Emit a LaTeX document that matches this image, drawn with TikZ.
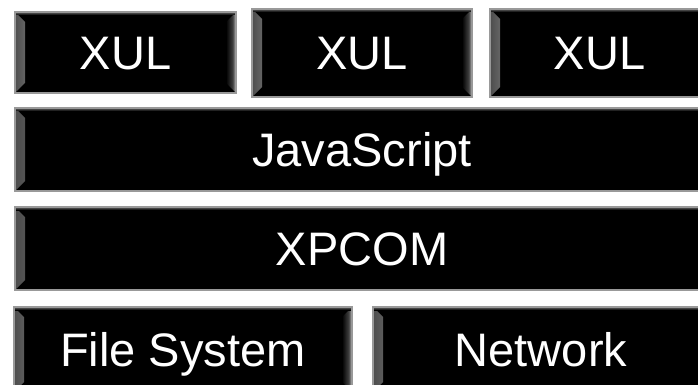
\documentclass[tikz,border=0pt]{standalone}
\usepackage{fontspec}
\setmainfont{Liberation Sans}
\pgfdeclarehorizontalshading{bevL}{100bp}{color(0bp)=(black!70); color(25bp)=(black!70); color(31bp)=(black!45); color(42bp)=(black!75); color(75bp)=(black); color(100bp)=(black)}
\pgfdeclarehorizontalshading{bevR}{100bp}{color(0bp)=(black); color(25bp)=(black); color(58bp)=(black!75); color(69bp)=(black!45); color(75bp)=(black!70); color(100bp)=(black!70)}
\tikzset{
  blk/.style={draw=black!40, line width=1.2pt, fill=black, text=white,
    font=\fontsize{47}{47}\selectfont, inner sep=0pt, anchor=center,
    text height=33.6pt, text depth=0pt,
    path picture={
      \shade[shading=bevL] (path picture bounding box.north west) -- ++(10pt,-10pt)
        -- ([shift={(10pt,10pt)}]path picture bounding box.south west)
        -- (path picture bounding box.south west) -- cycle;
      \shade[shading=bevR] (path picture bounding box.north east) -- ++(-10pt,-10pt)
        -- ([shift={(-10pt,10pt)}]path picture bounding box.south east)
        -- (path picture bounding box.south east) -- cycle;
      \shade[top color=black!60, bottom color=black] (path picture bounding box.north west)
        rectangle ([yshift=-3pt]path picture bounding box.north east);
    }}
}
\begin{document}
\begin{tikzpicture}[x=1pt,y=-1pt]
\useasboundingbox (0,0) rectangle (698,385);
\node[blk, minimum width=221pt, minimum height=81pt] (xul1) at (125.5,52.5) {XUL};
\node[blk, minimum width=220pt, minimum height=88pt] (xul2) at (362,53) {XUL};
\node[blk, minimum width=219pt, minimum height=88pt] (xul3) at (599.5,53) {XUL};
\node[blk, minimum width=694pt, minimum height=83pt] (js) at (362,149.5) {JavaScript};
\node[blk, minimum width=694pt, minimum height=83pt] (xpcom) at (362,248.5) {XPCOM};
\node[blk, minimum width=338pt, minimum height=85pt] (fs) at (183,349.5) {File System};
\node[blk, minimum width=336pt, minimum height=85pt] (net) at (541,349.5) {Network};
\end{tikzpicture}
\end{document}
